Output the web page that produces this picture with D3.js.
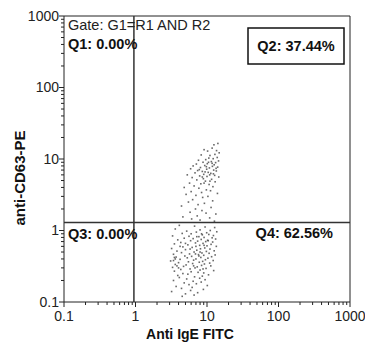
<!DOCTYPE html>
<html>
<head>
<meta charset="utf-8">
<script src="https://cdn.jsdelivr.net/npm/d3@7"></script>
<style>
  body { margin: 0; background: #fff; }
  svg { display: block; font-family: "Liberation Sans", Arial, sans-serif; }
</style>
</head>
<body>
<svg id="chart"></svg>
<script>
// tick labels of both log axes
var decadeTicks = [0.1, 1, 10, 100, 1000];
var decadeLabels = ["0.1", "1", "10", "100", "1000"];

// quadrant split and gate text
var quadX = 0.95;
var quadY = 1.29;
var gateText = "Gate: G1=R1 AND R2";
var quadLabels = ["Q1: 0.00%", "Q2: 37.44%", "Q3: 0.00%", "Q4: 62.56%"];

// events [anti IgE FITC, anti-CD63-PE]
var q2Events = [
  [12.5,15.8],[14.2,16.5],[11.8,14.2],[13.6,13.1],[10.2,12.9],[9.1,13.5],[12.9,11.6],[14.8,12.2],
  [8.3,11.4],[11.0,11.2],[13.9,10.5],[10.6,10.3],[12.2,10.1],[9.6,9.8],[7.6,9.6],[14.5,9.4],
  [11.5,9.2],[8.8,9.0],[13.2,8.9],[10.1,8.6],[7.1,8.5],[12.6,8.3],[9.3,8.1],[6.4,8.0],
  [11.9,7.9],[14.1,7.7],[8.1,7.6],[10.8,7.5],[5.9,7.3],[9.9,7.2],[12.4,7.0],[7.4,6.9],
  [13.5,6.8],[8.6,6.7],[10.4,6.5],[6.8,6.4],[11.3,6.3],[9.0,6.1],[5.3,6.0],[12.8,5.9],
  [7.9,5.8],[10.0,5.7],[14.6,5.6],[6.2,5.5],[8.9,5.3],[11.6,5.2],[7.2,5.1],[9.5,4.9],
  [13.0,4.8],[5.7,4.6],[8.2,4.5],[10.7,4.4],[6.6,4.2],[12.1,4.1],[4.8,4.0],[7.7,3.9],
  [9.8,3.7],[11.2,3.6],[6.0,3.5],[8.4,3.4],[14.0,3.3],[5.1,3.2],[7.0,3.1],[10.3,3.0],
  [8.7,2.9],[6.3,2.7],[12.0,2.6],[5.5,2.5],[9.2,2.4],[7.5,2.3],[4.4,2.2],[11.4,2.1],
  [6.9,2.0],[8.5,1.9],[5.8,1.8],[9.7,1.75],[13.3,1.7],[7.3,1.6],[4.6,1.55],[10.9,1.5],
  [6.1,1.45],[8.0,1.4],[12.7,1.35],[9.4,6.6],[10.9,6.0],[8.6,5.6],[11.8,8.7],[9.8,7.8],
  [12.3,6.2],[7.8,7.1],[10.5,9.0],[13.4,7.4],[9.1,4.6],[11.0,4.9]
];
var q4Events = [
  [4.1,1.18],[6.7,1.15],[9.4,1.12],[12.8,1.1],[3.6,1.05],[8.0,1.02],[11.1,1.0],[5.2,0.98],
  [13.7,0.96],[7.1,0.95],[9.9,0.93],[4.5,0.91],[6.0,0.9],[10.6,0.88],[8.6,0.87],[12.3,0.85],
  [3.3,0.84],[5.6,0.83],[7.7,0.82],[9.1,0.8],[11.8,0.79],[4.8,0.78],[6.4,0.77],[13.2,0.76],
  [8.3,0.75],[3.9,0.74],[10.2,0.73],[5.9,0.72],[7.4,0.71],[9.6,0.7],[12.0,0.69],[4.3,0.68],
  [6.9,0.67],[8.8,0.66],[3.5,0.65],[11.4,0.64],[5.4,0.63],[7.9,0.62],[10.0,0.61],[13.5,0.6],
  [4.6,0.59],[6.2,0.58],[9.3,0.57],[3.2,0.56],[8.1,0.555],[11.0,0.55],[5.0,0.54],[7.2,0.53],
  [12.6,0.52],[3.8,0.515],[9.8,0.51],[6.6,0.5],[4.4,0.49],[8.5,0.485],[10.7,0.48],[5.7,0.47],
  [3.4,0.465],[7.6,0.46],[13.0,0.455],[9.0,0.45],[4.9,0.44],[6.1,0.435],[11.6,0.43],[3.7,0.425],
  [8.2,0.42],[5.3,0.415],[10.3,0.41],[7.0,0.4],[4.2,0.395],[9.5,0.39],[6.5,0.385],[12.2,0.38],
  [3.1,0.375],[8.7,0.37],[5.5,0.365],[7.8,0.36],[4.0,0.355],[10.9,0.35],[6.3,0.345],[9.2,0.34],
  [3.6,0.335],[5.1,0.33],[8.4,0.325],[11.3,0.32],[4.7,0.315],[7.3,0.31],[3.3,0.305],[6.8,0.3],
  [9.7,0.295],[5.8,0.29],[4.3,0.285],[8.0,0.28],[12.4,0.275],[3.5,0.27],[6.0,0.265],[7.5,0.26],
  [9.0,0.255],[4.6,0.25],[5.4,0.245],[10.5,0.24],[3.9,0.235],[8.6,0.23],[6.7,0.225],[4.1,0.22],
  [7.9,0.215],[5.2,0.21],[9.4,0.205],[3.4,0.2],[6.4,0.195],[8.3,0.19],[4.8,0.185],[7.1,0.18],
  [5.6,0.175],[10.1,0.17],[3.7,0.165],[6.2,0.16],[4.4,0.155],[8.9,0.15],[5.9,0.145],[3.2,0.14],
  [7.4,0.135],[5.0,0.13],[6.6,0.125],[4.5,0.12],[3.5,0.42],[3.6,0.4],[3.4,0.38],[7.7,0.44],
  [8.0,0.5],[4.2,0.6],[9.1,0.62],[5.8,0.55],[6.9,0.47],[10.4,0.72],[7.2,0.82],[8.4,0.9],
  [3.8,0.32],[4.0,0.3],[6.5,0.32],[8.8,0.29],[7.0,0.6],[5.0,0.66]
];

var width = 365, height = 346;
var margin = {top: 16, right: 15, bottom: 44, left: 64};

var svg = d3.select("#chart")
    .attr("width", width)
    .attr("height", height);

var x = d3.scaleLog()
    .domain([0.1, 1000])
    .range([margin.left, width - margin.right]);
var y = d3.scaleLog()
    .domain([0.1, 1000])
    .range([height - margin.bottom, margin.top]);

// all ticks: 1..9 of every decade
var allTicks = x.ticks();
function isMajor(v) {
    return decadeTicks.some(function(t) { return Math.abs(t - v) / t < 1e-6; });
}

// x axis
var xAxis = svg.append("g")
    .attr("transform", "translate(0," + (height - margin.bottom) + ")");
xAxis.append("line")
    .attr("x1", x(0.1)).attr("x2", x(1000))
    .attr("stroke", "#222");
xAxis.selectAll(".tick")
    .data(allTicks)
    .enter()
    .append("line")
    .attr("x1", function(d) { return x(d); })
    .attr("x2", function(d) { return x(d); })
    .attr("y1", 0)
    .attr("y2", function(d) { return isMajor(d) ? 5 : 3; })
    .attr("stroke", "#222");
xAxis.selectAll(".lab")
    .data(decadeTicks)
    .enter()
    .append("text")
    .attr("x", function(d) { return x(d); })
    .attr("y", 19)
    .attr("text-anchor", "middle")
    .attr("font-size", 14)
    .attr("fill", "#222")
    .text(function(d, i) { return decadeLabels[i]; });

// y axis
var yAxis = svg.append("g")
    .attr("transform", "translate(" + margin.left + ",0)");
yAxis.append("line")
    .attr("y1", y(0.1)).attr("y2", y(1000))
    .attr("stroke", "#222");
yAxis.selectAll(".tick")
    .data(allTicks)
    .enter()
    .append("line")
    .attr("y1", function(d) { return y(d); })
    .attr("y2", function(d) { return y(d); })
    .attr("x1", 0)
    .attr("x2", function(d) { return isMajor(d) ? -5 : -3; })
    .attr("stroke", "#222");
yAxis.selectAll(".lab")
    .data(decadeTicks)
    .enter()
    .append("text")
    .attr("x", -5)
    .attr("y", function(d) { return y(d); })
    .attr("dy", "0.35em")
    .attr("text-anchor", "end")
    .attr("font-size", 14)
    .attr("fill", "#222")
    .text(function(d, i) { return decadeLabels[i]; });

// top / right frame
svg.append("path")
    .attr("d", "M" + x(0.1) + "," + y(1000) + "H" + x(1000) + "V" + y(0.1))
    .attr("fill", "none")
    .attr("stroke", "#222");

// events
var events = q2Events.concat(q4Events);
svg.append("g")
    .selectAll("rect")
    .data(events)
    .enter()
    .append("rect")
    .attr("x", function(d) { return x(d[0]) - 0.8; })
    .attr("y", function(d) { return y(d[1]) - 0.8; })
    .attr("width", 1.6)
    .attr("height", 1.6)
    .attr("fill", "#444")
    .attr("opacity", 0.8);

// quadrant lines
svg.append("line")
    .attr("x1", x(quadX)).attr("x2", x(quadX))
    .attr("y1", y(1000)).attr("y2", y(0.1))
    .attr("stroke", "#333")
    .attr("stroke-width", 1.5);
svg.append("line")
    .attr("x1", x(0.1)).attr("x2", x(1000))
    .attr("y1", y(quadY)).attr("y2", y(quadY))
    .attr("stroke", "#333")
    .attr("stroke-width", 1.5);

// gate + quadrant texts
svg.append("text")
    .attr("x", x(0.1) + 4)
    .attr("y", 30)
    .attr("font-size", 14.5)
    .attr("fill", "#222")
    .text(gateText);

svg.append("text")
    .attr("x", x(0.1) + 4)
    .attr("y", 49)
    .attr("font-size", 14.5)
    .attr("font-weight", "bold")
    .attr("fill", "#111")
    .text(quadLabels[0]);

svg.append("rect")
    .attr("x", 248).attr("y", 28)
    .attr("width", 96).attr("height", 36)
    .attr("fill", "none")
    .attr("stroke", "#111")
    .attr("stroke-width", 1.5);
svg.append("text")
    .attr("x", 296)
    .attr("y", 51)
    .attr("text-anchor", "middle")
    .attr("font-size", 14.5)
    .attr("font-weight", "bold")
    .attr("fill", "#111")
    .text(quadLabels[1]);

svg.append("text")
    .attr("x", x(0.1) + 4)
    .attr("y", y(quadY) + 16)
    .attr("font-size", 14.5)
    .attr("font-weight", "bold")
    .attr("fill", "#111")
    .text(quadLabels[2]);

svg.append("text")
    .attr("x", 333)
    .attr("y", y(quadY) + 15)
    .attr("text-anchor", "end")
    .attr("font-size", 14.5)
    .attr("font-weight", "bold")
    .attr("fill", "#111")
    .text(quadLabels[3]);

// axis titles
svg.append("text")
    .attr("x", 190)
    .attr("y", 339)
    .attr("text-anchor", "middle")
    .attr("font-size", 14)
    .attr("font-weight", "bold")
    .attr("fill", "#111")
    .text("Anti IgE FITC");

svg.append("text")
    .attr("transform", "translate(25,178) rotate(-90)")
    .attr("text-anchor", "middle")
    .attr("font-size", 15)
    .attr("font-weight", "bold")
    .attr("fill", "#111")
    .text("anti-CD63-PE");
</script>
</body>
</html>
